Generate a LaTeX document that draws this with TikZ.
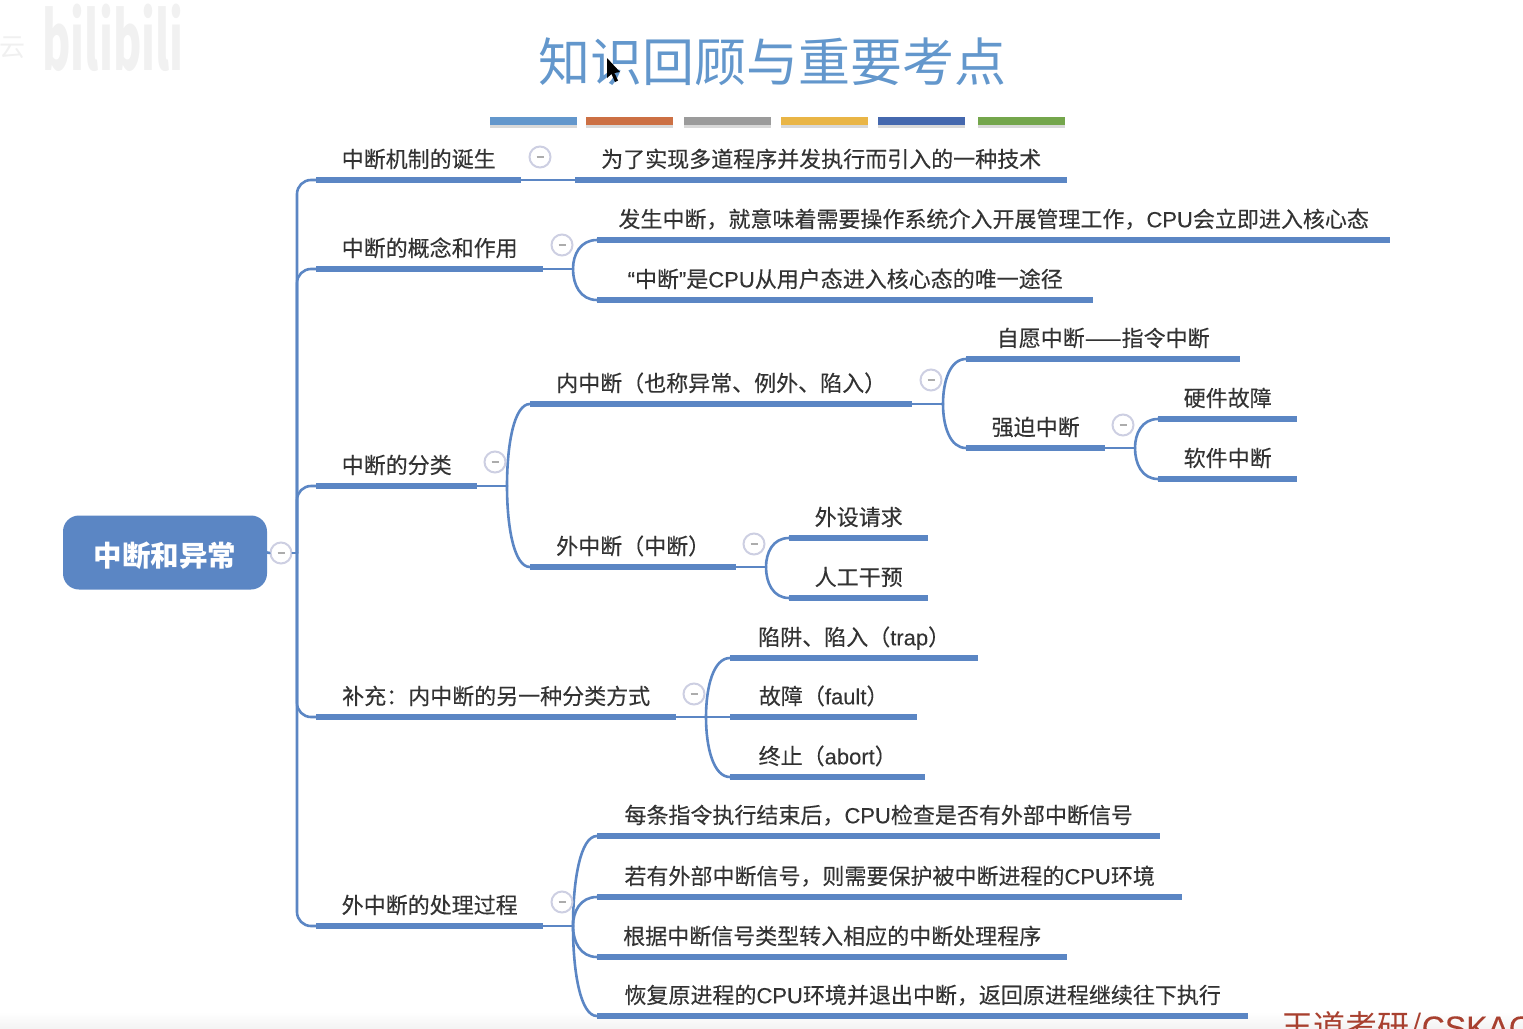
\documentclass[tikz,border=0pt]{standalone}
\usepackage{fontspec}
\setmainfont{Noto Sans CJK SC}
\newfontfamily\topicfont[FakeBold=0.25]{Noto Sans CJK SC}
\newfontfamily\latinfont[FakeBold=0.15]{Liberation Sans}
\newcommand{\lat}[1]{{\latinfont #1}}
\usetikzlibrary{positioning,calc,shadows}

\definecolor{mapblue}{HTML}{5B86C4}
\definecolor{foldgray}{HTML}{CDCFE2}
\definecolor{inkgray}{HTML}{333333}
\definecolor{titleblue}{HTML}{6397CC}
\definecolor{stripeorange}{HTML}{CC7044}
\definecolor{stripegray}{HTML}{9B9B9B}
\definecolor{stripeyellow}{HTML}{E9B546}
\definecolor{stripeblue}{HTML}{4568AE}
\definecolor{stripegreen}{HTML}{74A64C}
\definecolor{brandred}{HTML}{A8402F}

\tikzset{
    topic/.style={anchor=south west, inner sep=0pt, minimum height=40pt, text height=19pt, text depth=4pt, text=inkgray, font=\topicfont\fontsize{22}{26}\selectfont},
    topicbar/.style={draw=mapblue, line width=6pt},
    link/.style={draw=mapblue, line width=2.6pt, line cap=round},
    fold/.style={circle, draw=foldgray, fill=white, line width=2pt, minimum size=21pt, inner sep=0pt,
        path picture={\draw[gray!65, line width=2pt] ($(path picture bounding box.center)+(-3.5,0)$) -- ($(path picture bounding box.center)+(3.5,0)$);}},
    stripe/.style={minimum width=87pt, minimum height=8pt, inner sep=0pt, drop shadow={shadow xshift=0pt, shadow yshift=-2.5pt, opacity=.3}}
}

\begin{document}
\begin{tikzpicture}[x=1pt, y=-1pt]
    \useasboundingbox (0,0) rectangle (1523,1028);
    \clip (0,0) rectangle (1523,1028);
    \shade[top color=white, bottom color=gray!9] (0,1012) rectangle (1523,1028);

    % Watermark
    \node[text=gray!12, font=\fontsize{26}{30}\selectfont, inner sep=0pt] (cloudmark) at (12,48) {云};
    \node[text=gray!11, font=\bfseries\fontsize{80}{84}\selectfont, inner sep=0pt, xscale=.54] (bilimark) at (113,38) {bilibili};

    % Title
    \node[text=titleblue, font=\fontsize{52}{60}\selectfont, inner sep=0pt] (title) at (772,61.5) {知识回顾与重要考点};
    \fill[black] (607,58) -- (607,78) -- (611.5,74) -- (615,82) -- (618,80.5) -- (614.5,73) -- (620,72) -- cycle;
    \node[stripe, fill=titleblue] (stripea) at (533.5,121) {};
    \node[stripe, fill=stripeorange] (stripeb) at (629.5,121) {};
    \node[stripe, fill=stripegray] (stripec) at (727.5,121) {};
    \node[stripe, fill=stripeyellow] (striped) at (824.5,121) {};
    \node[stripe, fill=stripeblue] (stripee) at (921.5,121) {};
    \node[stripe, fill=stripegreen] (stripef) at (1021,121) {};

    % Root
    \node[fill=mapblue, rounded corners=16pt, minimum width=204pt, minimum height=74pt, text=white, inner sep=0pt, text height=27pt, text depth=0pt,
        font=\bfseries\fontsize{28.5}{32}\selectfont] (root) at (165,552.5) {中断和异常};
    \node[fold] (foldroot) at (281,553) {};
    \coordinate (trunk) at (297,553);

    % First level
    \node[topic, minimum width=205pt] (birth) at (316,180) {中断机制的诞生};
    \node[topic, minimum width=227pt] (concept) at (316,269) {中断的概念和作用};
    \node[topic, minimum width=161pt] (classify) at (316,486) {中断的分类};
    \node[topic, minimum width=360pt] (extra) at (316,717) {补充：内中断的另一种分类方式};
    \node[topic, minimum width=227pt] (process) at (316,926) {外中断的处理过程};

    % Birth and concept
    \node[topic, minimum width=492pt] (why) at (575,180) {为了实现多道程序并发执行而引入的一种技术};
    \node[topic, minimum width=793pt] (meaning) at (597,240) {发生中断，就意味着需要操作系统介入开展管理工作，\lat{CPU}会立即进入核心态};
    \node[topic, minimum width=496pt] (onlyway) at (597,300) {\lat{“}中断\lat{”}是\lat{CPU}从用户态进入核心态的唯一途径};

    % Classification
    \node[topic, minimum width=382pt] (inner) at (530,404) {内中断（也称异常、例外、陷入）};
    \node[topic, minimum width=206pt] (outer) at (530,567) {外中断（中断）};
    \node[topic, minimum width=274pt] (voluntary) at (966,359) {自愿中断——指令中断};
    \node[topic, minimum width=139pt] (forced) at (966,448) {强迫中断};
    \node[topic, minimum width=139pt] (hardware) at (1158,419) {硬件故障};
    \node[topic, minimum width=139pt] (software) at (1158,479) {软件中断};
    \node[topic, minimum width=139pt] (device) at (789,538) {外设请求};
    \node[topic, minimum width=139pt] (manual) at (789,598) {人工干预};

    % Other way of classifying
    \node[topic, minimum width=248pt] (trap) at (730,658) {陷阱、陷入（\lat{trap}）};
    \node[topic, minimum width=187pt] (fault) at (730,717) {故障（\lat{fault}）};
    \node[topic, minimum width=195pt] (abort) at (730,777) {终止（\lat{abort}）};

    % Handling steps
    \node[topic, minimum width=563pt] (stepa) at (597,836) {每条指令执行结束后，\lat{CPU}检查是否有外部中断信号};
    \node[topic, minimum width=585pt] (stepb) at (597,897) {若有外部中断信号，则需要保护被中断进程的\lat{CPU}环境};
    \node[topic, minimum width=470pt] (stepc) at (597,957) {根据中断信号类型转入相应的中断处理程序};
    \node[topic, minimum width=651pt] (stepd) at (597,1016) {恢复原进程的\lat{CPU}环境并退出中断，返回原进程继续往下执行};

    % Underlines
    \foreach \n in {birth,concept,classify,extra,process,why,meaning,onlyway,inner,outer,voluntary,forced,hardware,software,device,manual,trap,fault,abort,stepa,stepb,stepc,stepd}
        \draw[topicbar] (\n.south west) -- (\n.south east);

    % Hubs
    \coordinate (hubconcept) at (573,269);
    \coordinate (hubclassify) at (507,486);
    \coordinate (hubinner) at (943,404);
    \coordinate (hubforced) at (1135,448);
    \coordinate (hubouter) at (766,567);
    \coordinate (hubextra) at (706,717);
    \coordinate (hubprocess) at (573,926);

    % Connectors
    \draw[link] (root.east) -- (foldroot.west);
    \draw[link] (foldroot.east) -- (trunk);
    \foreach \n in {birth,concept,classify,extra,process}
        \draw[link, rounded corners=14pt] (trunk) |- (\n.south west);
    \draw[link] (birth.south east) -- (why.south west);
    \draw[link] (concept.south east) -- (hubconcept);
    \draw[link] (classify.south east) -- (hubclassify);
    \draw[link] (inner.south east) -- (hubinner);
    \draw[link] (forced.south east) -- (hubforced);
    \draw[link] (outer.south east) -- (hubouter);
    \draw[link] (extra.south east) -- (hubextra);
    \draw[link] (process.south east) -- (hubprocess);
    \foreach \a/\b in {hubconcept/meaning,hubconcept/onlyway,hubclassify/inner,hubclassify/outer,hubinner/voluntary,hubinner/forced,hubforced/hardware,hubforced/software,hubouter/device,hubouter/manual,hubextra/trap,hubextra/abort,hubprocess/stepa,hubprocess/stepb,hubprocess/stepc,hubprocess/stepd}
        \draw[link] (\a) .. controls ($(\a)!0.5!(\a |- \b.south west)$) and ($(\b.south west)!0.7!(\a |- \b.south west)$) .. (\b.south west);
    \draw[link] (hubextra) -- (fault.south west);

    % Fold marks
    \node[fold] (foldbirth) at (540,157) {};
    \node[fold] (foldconcept) at (562,245) {};
    \node[fold] (foldclassify) at (495,462) {};
    \node[fold] (foldinner) at (931,380) {};
    \node[fold] (foldforced) at (1123,425) {};
    \node[fold] (foldouter) at (754,544) {};
    \node[fold] (foldextra) at (694,694) {};
    \node[fold] (foldprocess) at (562,902) {};

    % Corner text
    \node[anchor=west, text=brandred, font=\fontsize{32}{36}\selectfont, inner sep=0pt] (brand) at (1281,1028) {王道考研/\lat{CSKAO}};
\end{tikzpicture}
\end{document}
